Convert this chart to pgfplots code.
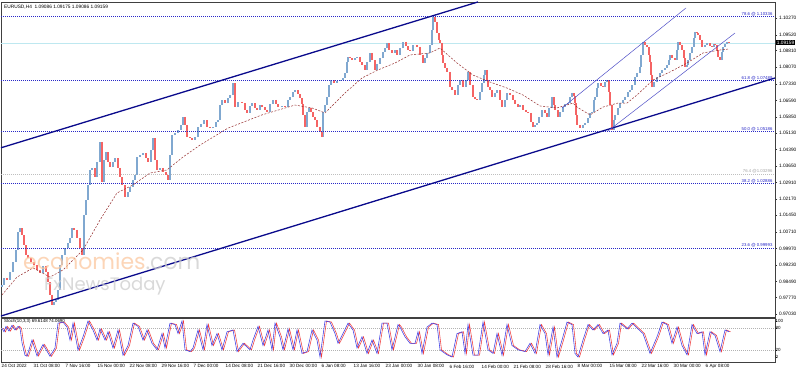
\documentclass[border=0pt]{standalone}
\usepackage{fontspec}
\setmainfont{Liberation Sans}
\newfontfamily\wmfont{Poppins}
\usepackage{pgfplots}
\usepackage{pgfplotstable}
\pgfplotsset{compat=1.18}
\definecolor{upc}{RGB}{128,168,208}
\definecolor{dnc}{RGB}{245,100,100}
\definecolor{fibc}{RGB}{40,40,200}
\definecolor{chan}{RGB}{10,10,140}
\definecolor{thinch}{RGB}{80,80,200}
\definecolor{mac}{RGB}{150,45,45}
\definecolor{cpc}{RGB}{190,232,240}
\definecolor{stk}{RGB}{60,60,230}
\definecolor{std}{RGB}{240,60,60}
\definecolor{wmor}{RGB}{252,200,160}
\definecolor{wmgr}{RGB}{205,205,205}

\pgfplotstableread{
x o c
2 0.9825 0.9834
4 0.9834 0.9865
7 0.9865 0.9856
10 0.9856 0.9892
13 0.9892 0.9937
16 0.9937 0.9990
18 0.9990 1.0071
20 1.0071 1.0088
22 1.0088 1.0057
24 1.0057 1.0012
26 1.0012 0.9968
28 0.9968 0.9954
31 0.9954 0.9937
34 0.9937 0.9923
37 0.9923 0.9901
40 0.9901 0.9887
43 0.9887 0.9919
46 0.9919 0.9892
48 0.9892 0.9847
50 0.9847 0.9789
52 0.9789 0.9744
54 0.9744 0.9758
56 0.9758 0.9767
58 0.9767 0.9811
60 0.9811 0.9923
62 0.9923 0.9968
65 0.9968 0.9999
68 0.9999 1.0021
70 1.0021 1.0044
72 1.0044 1.0088
74 1.0088 1.0080
77 1.0080 1.0044
80 1.0044 0.9999
82 0.9999 0.9968
84 0.9968 1.0147
86 1.0147 1.0214
88 1.0214 1.0281
90 1.0281 1.0348
92 1.0348 1.0357
95 1.0357 1.0316
97 1.0316 1.0384
100 1.0384 1.0473
102 1.0473 1.0294
104 1.0294 1.0392
106 1.0392 1.0428
108 1.0428 1.0384
110 1.0384 1.0361
113 1.0361 1.0384
115 1.0384 1.0401
118 1.0401 1.0357
120 1.0357 1.0316
122 1.0316 1.0281
125 1.0281 1.0227
128 1.0227 1.0249
130 1.0249 1.0272
133 1.0272 1.0303
135 1.0303 1.0325
137 1.0325 1.0406
140 1.0406 1.0415
143 1.0415 1.0424
146 1.0424 1.0401
148 1.0401 1.0384
151 1.0384 1.0437
153 1.0437 1.0491
155 1.0491 1.0392
157 1.0392 1.0348
160 1.0348 1.0357
163 1.0357 1.0339
166 1.0339 1.0325
168 1.0325 1.0303
170 1.0303 1.0415
172 1.0415 1.0504
175 1.0504 1.0513
178 1.0513 1.0527
181 1.0527 1.0549
183 1.0549 1.0585
185 1.0585 1.0549
187 1.0549 1.0495
190 1.0495 1.0491
192 1.0491 1.0482
195 1.0482 1.0495
198 1.0495 1.0540
201 1.0540 1.0553
204 1.0553 1.0571
207 1.0571 1.0540
210 1.0540 1.0535
213 1.0535 1.0540
216 1.0540 1.0562
218 1.0562 1.0571
220 1.0571 1.0638
222 1.0638 1.0661
225 1.0661 1.0647
228 1.0647 1.0670
230 1.0670 1.0683
233 1.0683 1.0737
235 1.0737 1.0629
238 1.0629 1.0652
242 1.0652 1.0647
245 1.0647 1.0616
247 1.0616 1.0603
250 1.0603 1.0634
252 1.0634 1.0647
255 1.0647 1.0625
257 1.0625 1.0616
260 1.0616 1.0638
262 1.0638 1.0629
265 1.0629 1.0616
267 1.0616 1.0607
270 1.0607 1.0643
273 1.0643 1.0661
276 1.0661 1.0643
278 1.0643 1.0629
282 1.0629 1.0634
285 1.0634 1.0629
288 1.0629 1.0661
290 1.0661 1.0674
293 1.0674 1.0696
295 1.0696 1.0705
298 1.0705 1.0687
300 1.0687 1.0670
302 1.0670 1.0643
303 1.0643 1.0594
305 1.0594 1.0540
307 1.0540 1.0607
309 1.0607 1.0625
311 1.0625 1.0607
313 1.0607 1.0585
315 1.0585 1.0571
317 1.0571 1.0540
320 1.0540 1.0518
322 1.0518 1.0495
323 1.0495 1.0607
325 1.0607 1.0638
327 1.0638 1.0674
329 1.0674 1.0728
331 1.0728 1.0750
334 1.0750 1.0737
337 1.0737 1.0746
340 1.0746 1.0750
343 1.0750 1.0759
345 1.0759 1.0781
347 1.0781 1.0831
348 1.0831 1.0853
350 1.0853 1.0848
352 1.0848 1.0839
355 1.0839 1.0848
357 1.0848 1.0853
360 1.0853 1.0831
362 1.0831 1.0817
365 1.0817 1.0795
367 1.0795 1.0831
370 1.0831 1.0871
372 1.0871 1.0839
375 1.0839 1.0795
377 1.0795 1.0822
380 1.0822 1.0848
383 1.0848 1.0875
385 1.0875 1.0893
387 1.0893 1.0915
389 1.0915 1.0884
392 1.0884 1.0871
395 1.0871 1.0884
397 1.0884 1.0862
400 1.0862 1.0893
403 1.0893 1.0920
406 1.0920 1.0902
408 1.0902 1.0884
410 1.0884 1.0878
413 1.0878 1.0906
417 1.0906 1.0898
420 1.0898 1.0862
423 1.0862 1.0826
425 1.0826 1.0848
427 1.0848 1.0871
430 1.0871 1.0906
432 1.0906 1.0974
433 1.0974 1.1032
435 1.1032 1.1009
437 1.1009 1.0960
439 1.0960 1.0929
440 1.0929 1.0915
442 1.0915 1.0862
443 1.0862 1.0826
445 1.0826 1.0804
447 1.0804 1.0786
450 1.0786 1.0719
452 1.0719 1.0705
455 1.0705 1.0683
458 1.0683 1.0728
460 1.0728 1.0750
463 1.0750 1.0719
466 1.0719 1.0750
468 1.0750 1.0786
470 1.0786 1.0728
473 1.0728 1.0674
475 1.0674 1.0665
477 1.0665 1.0661
480 1.0661 1.0696
482 1.0696 1.0737
484 1.0737 1.0772
485 1.0772 1.0795
487 1.0795 1.0750
488 1.0750 1.0719
490 1.0719 1.0705
492 1.0705 1.0674
495 1.0674 1.0692
497 1.0692 1.0705
500 1.0705 1.0661
502 1.0661 1.0629
505 1.0629 1.0661
507 1.0661 1.0692
510 1.0692 1.0683
513 1.0683 1.0661
515 1.0661 1.0643
518 1.0643 1.0629
520 1.0629 1.0638
523 1.0638 1.0616
526 1.0616 1.0607
528 1.0607 1.0603
531 1.0603 1.0562
533 1.0562 1.0540
535 1.0540 1.0549
537 1.0549 1.0558
539 1.0558 1.0585
542 1.0585 1.0616
545 1.0616 1.0603
547 1.0603 1.0585
549 1.0585 1.0625
552 1.0625 1.0674
554 1.0674 1.0638
555 1.0638 1.0616
558 1.0616 1.0585
560 1.0585 1.0607
563 1.0607 1.0629
565 1.0629 1.0643
568 1.0643 1.0647
570 1.0647 1.0674
572 1.0674 1.0692
574 1.0692 1.0678
575 1.0678 1.0647
576 1.0647 1.0594
577 1.0594 1.0549
580 1.0549 1.0535
583 1.0535 1.0549
585 1.0549 1.0558
588 1.0558 1.0580
590 1.0580 1.0603
592 1.0603 1.0607
594 1.0607 1.0661
595 1.0661 1.0674
597 1.0674 1.0714
598 1.0714 1.0737
601 1.0737 1.0723
603 1.0723 1.0719
605 1.0719 1.0741
607 1.0741 1.0750
609 1.0750 1.0696
610 1.0696 1.0638
612 1.0638 1.0527
614 1.0527 1.0571
615 1.0571 1.0594
618 1.0594 1.0625
620 1.0625 1.0647
623 1.0647 1.0661
625 1.0661 1.0674
628 1.0674 1.0696
630 1.0696 1.0705
632 1.0705 1.0728
635 1.0728 1.0763
637 1.0763 1.0781
640 1.0781 1.0808
641 1.0808 1.0862
643 1.0862 1.0920
645 1.0920 1.0906
647 1.0906 1.0898
649 1.0898 1.0862
650 1.0862 1.0831
651 1.0831 1.0772
652 1.0772 1.0719
654 1.0719 1.0741
657 1.0741 1.0763
660 1.0763 1.0781
662 1.0781 1.0795
665 1.0795 1.0804
667 1.0804 1.0817
669 1.0817 1.0839
670 1.0839 1.0862
672 1.0862 1.0848
675 1.0848 1.0839
677 1.0839 1.0884
678 1.0884 1.0920
680 1.0920 1.0906
682 1.0906 1.0884
684 1.0884 1.0848
685 1.0848 1.0808
687 1.0808 1.0817
688 1.0817 1.0839
690 1.0839 1.0871
692 1.0871 1.0898
694 1.0898 1.0938
695 1.0938 1.0965
697 1.0965 1.0960
698 1.0960 1.0951
700 1.0951 1.0929
702 1.0929 1.0898
705 1.0898 1.0906
707 1.0906 1.0915
710 1.0915 1.0902
712 1.0902 1.0898
714 1.0898 1.0911
715 1.0911 1.0906
717 1.0906 1.0884
718 1.0884 1.0853
720 1.0853 1.0839
722 1.0839 1.0875
723 1.0875 1.0898
725 1.0898 1.0911
727 1.0911 1.0920
729 1.0920 1.0916
}\candles

\pgfplotstableread{
x k
2 80
4 70
6 85
9 72
12 88
15 75
18 85
20 80
22 40
25 5
27 2
32 47
37 3
43 35
50 2
55 25
58 94
63 97
67 83
70 47
73 94
78 19
83 56
88 100
93 75
97 47
100 78
105 47
108 70
113 25
118 75
123 5
128 32
133 94
138 85
143 47
147 75
152 38
157 20
162 65
165 25
170 94
175 90
178 65
182 100
185 20
190 15
193 25
198 75
203 20
207 90
212 32
217 65
222 20
227 70
233 75
237 15
243 38
250 20
253 47
258 85
263 32
268 75
272 20
275 94
280 56
283 20
288 78
293 20
297 75
302 10
307 15
312 75
317 47
320 0
325 100
330 97
335 65
338 38
343 65
348 94
353 75
357 25
362 56
367 10
372 47
377 10
382 94
387 94
392 20
398 90
400 83
405 56
410 38
415 38
418 70
422 10
427 83
432 94
437 90
440 20
447 6
452 0
457 65
462 70
465 10
468 90
473 5
478 5
483 97
488 20
493 10
497 65
502 5
507 90
512 32
518 20
525 15
530 38
535 10
540 90
545 65
548 6
553 83
557 0
562 47
567 97
572 90
575 10
578 0
583 47
588 90
593 75
598 90
603 65
608 75
612 6
617 38
620 94
627 78
632 94
638 78
643 65
650 10
657 56
662 97
667 90
672 38
677 83
682 32
687 6
692 90
697 65
702 70
705 6
710 70
715 60
720 15
725 75
729 70
}\stoch

\begin{document}
\begin{tikzpicture}[x=1pt,y=1pt]
\useasboundingbox[fill=white] (0,0) rectangle (798,372);
\begin{axis}[
  at={(1pt,55pt)}, anchor=south west, scale only axis,
  width=774pt, height=315pt,
  xmin=1, xmax=775, ymin=0.96906, ymax=1.10987,
  axis line style={draw=black!75, line width=0.5pt},
  xtick=\empty,
  ytick={0.97030,0.97770,0.98490,0.99230,0.99970,1.00710,1.01450,1.02170,1.02910,1.03650,1.04390,1.05130,1.05850,1.06590,1.07330,1.08070,1.08810,1.09520,1.10270},
  yticklabels={0.97030,0.97770,0.98490,0.99230,0.99970,1.00710,1.01450,1.02170,1.02910,1.03650,1.04390,1.05130,1.05850,1.06590,1.07330,1.08070,1.08810,1.09520,1.10270},
  ytick pos=right, yticklabel pos=right,
  tick align=outside, major tick length=2pt,
  tick style={black!80, line width=0.4pt},
  yticklabel style={font=\fontsize{4.8}{5}\selectfont, xshift=-1.5pt},
  unbounded coords=discard,
]
\addplot[cpc, line width=0.7pt] coordinates {(1,1.09159) (775,1.09159)};
\addplot[black!25, dash pattern=on 1pt off 1pt, line width=0.6pt] coordinates {(1,1.03296) (775,1.03296)};
% candles
\addplot[upc, line width=1.5pt, -, quiver={u=0, v=\thisrow{c}-\thisrow{o}},
  y filter/.expression={\thisrow{c}>\thisrow{o} ? y : nan}] table[x=x, y=o] {\candles};
\addplot[dnc, line width=1.5pt, -, quiver={u=0, v=\thisrow{c}-\thisrow{o}},
  y filter/.expression={\thisrow{c}<\thisrow{o} ? y : nan}] table[x=x, y=o] {\candles};
% moving average
\addplot[mac, dash pattern=on 2pt off 1.5pt, line width=0.5pt] coordinates {
(2,0.9789) (17,0.9869) (33,0.9910) (50,0.9869) (63,0.9901) (83,0.9990) (100,1.0124)
(117,1.0245) (133,1.0281) (150,1.0334) (167,1.0348) (183,1.0406) (200,1.0459)
(228,1.0535) (262,1.0594) (295,1.0638) (312,1.0625) (325,1.0603) (345,1.0692)
(362,1.0759) (378,1.0795) (395,1.0826) (410,1.0862) (430,1.0871) (440,1.0893)
(457,1.0826) (473,1.0772) (490,1.0741) (507,1.0714) (523,1.0683) (540,1.0634)
(557,1.0625) (573,1.0647) (577,1.0629) (590,1.0594) (603,1.0629) (618,1.0647)
(627,1.0647) (637,1.0683) (653,1.0750) (670,1.0786) (687,1.0826) (703,1.0871)
(720,1.0884) (728,1.0888)};
% fibonacci levels
\addplot[fibc, dash pattern=on 1pt off 1pt, line width=0.6pt] coordinates {(1,1.10336) (775,1.10336)};
\addplot[fibc, dash pattern=on 1pt off 1pt, line width=0.6pt] coordinates {(1,1.07489) (775,1.07489)};
\addplot[fibc, dash pattern=on 1pt off 1pt, line width=0.6pt] coordinates {(1,1.05186) (775,1.05186)};
\addplot[fibc, dash pattern=on 1pt off 1pt, line width=0.6pt] coordinates {(1,1.02886) (775,1.02886)};
\addplot[fibc, dash pattern=on 1pt off 1pt, line width=0.6pt] coordinates {(1,0.99993) (775,0.99993)};
% channels
\addplot[chan, line width=1.3pt] coordinates {(1,1.0447) (478,1.1099)};
\addplot[chan, line width=1.3pt] coordinates {(1,0.9695) (775,1.0759)};
\addplot[thinch, line width=0.5pt] coordinates {(562,1.0625) (686,1.1072)};
\addplot[thinch, line width=0.5pt] coordinates {(608,1.0522) (735,1.0960)};
% labels
\node[anchor=south east, inner sep=0.4pt, text=fibc, font=\fontsize{4.3}{4.5}\selectfont] at (axis cs:773,1.10336) {78.6 @ 1.10336};
\node[anchor=south east, inner sep=0.4pt, text=fibc, font=\fontsize{4.3}{4.5}\selectfont] at (axis cs:773,1.07489) {61.8 @ 1.07489};
\node[anchor=south east, inner sep=0.4pt, text=fibc, font=\fontsize{4.3}{4.5}\selectfont] at (axis cs:773,1.05186) {50.0 @ 1.05186};
\node[anchor=south east, inner sep=0.4pt, text=black!35, font=\fontsize{4.3}{4.5}\selectfont] at (axis cs:773,1.03296) {76.4 @1.03296};
\node[anchor=south east, inner sep=0.4pt, text=fibc, font=\fontsize{4.3}{4.5}\selectfont] at (axis cs:773,1.02886) {38.2 @ 1.02886};
\node[anchor=south east, inner sep=0.4pt, text=fibc, font=\fontsize{4.3}{4.5}\selectfont] at (axis cs:773,0.99993) {23.6 @ 0.99993};
\node[anchor=north west, inner sep=0pt, font=\fontsize{4.8}{5}\selectfont] at (axis cs:4,1.1085) {EURUSD,H4~~1.09086 1.09175 1.09086 1.09159};
\node[anchor=base west, inner sep=0pt, opacity=0.75] at (axis cs:23,0.9901) {\wmfont\fontsize{22}{22}\selectfont\textcolor{wmor}{economies}\textcolor{wmgr}{.com}};
\node[anchor=base west, inner sep=0pt, opacity=0.75] at (axis cs:44,0.9811) {\wmfont\fontsize{18}{18}\selectfont\textcolor{wmgr}{FxNewsToday}};
\coordinate (cp) at (axis cs:775,1.09159);
\end{axis}
\node[anchor=west, fill=black, text=white, inner sep=0.7pt, font=\fontsize{4.8}{5}\selectfont] at ([xshift=1pt]cp) {1.09159};

\begin{axis}[
  at={(1pt,10pt)}, anchor=south west, scale only axis,
  width=774pt, height=44pt,
  xmin=1, xmax=775, ymin=-13.9, ymax=108.3,
  axis line style={draw=black!75, line width=0.5pt},
  xtick={1,33,65,97,129,161,193,225,257,289,321,353,385,417,449,481,513,545,577,609,641,673,705},
  xticklabels={24 Oct 2022,31 Oct 08:00,7 Nov 16:00,15 Nov 00:00,22 Nov 08:00,29 Nov 16:00,7 Dec 00:00,14 Dec 08:00,21 Dec 16:00,30 Dec 00:00,6 Jan 08:00,13 Jan 16:00,23 Jan 00:00,30 Jan 08:00,6 Feb 16:00,14 Feb 00:00,21 Feb 08:00,28 Feb 16:00,8 Mar 00:00,15 Mar 08:00,22 Mar 16:00,30 Mar 00:00,6 Apr 08:00},
  xtick pos=bottom,
  ytick={0,20,80,100}, yticklabels={0,20,80,100},
  ytick pos=right, yticklabel pos=right,
  tick align=outside, major tick length=1.5pt,
  tick style={black!80, line width=0.4pt},
  xticklabel style={anchor=north west, font=\fontsize{4.6}{5}\selectfont, xshift=-0.5pt, inner sep=1pt},
  yticklabel style={font=\fontsize{4.5}{5}\selectfont, xshift=-1.5pt, inner sep=0.5pt},
]
\addplot[black!30, dash pattern=on 1pt off 1pt, line width=0.4pt] coordinates {(1,20) (775,20)};
\addplot[black!30, dash pattern=on 1pt off 1pt, line width=0.4pt] coordinates {(1,80) (775,80)};
\addplot[std, line width=0.55pt] table[x expr=\thisrow{x}+1.5, y=k] {\stoch};
\addplot[stk, line width=0.55pt] table[x=x, y=k] {\stoch};
\node[anchor=north west, inner sep=0pt, font=\fontsize{4.4}{4.5}\selectfont] at (axis cs:4,106) {Stoch(10,3,3) 69.6148 74.0690};
\end{axis}
\end{tikzpicture}
\end{document}
